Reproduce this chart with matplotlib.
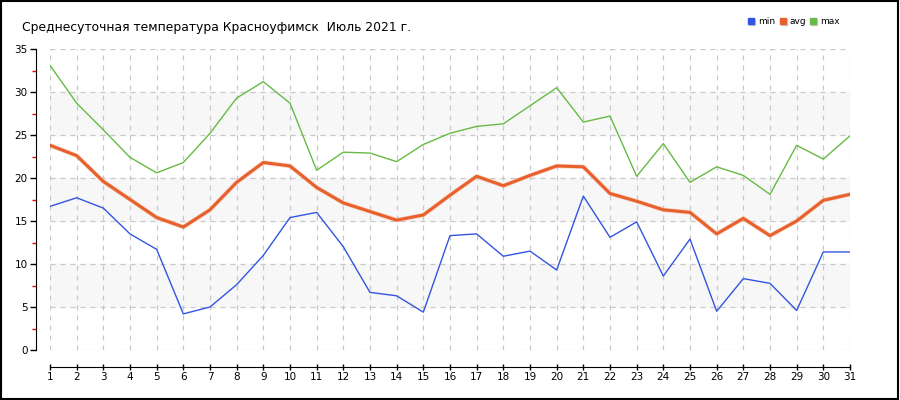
import matplotlib
matplotlib.use("Agg")
import matplotlib.pyplot as plt
from matplotlib.patches import Rectangle

days = list(range(1, 32))
t_min = [16.7, 17.7, 16.5, 13.5, 11.7, 4.2, 5.0, 7.6, 11.0, 15.4, 16.0, 12.0, 6.7, 6.3, 4.4, 13.3,
         13.5, 10.9, 11.5, 9.3, 17.9, 13.1, 14.9, 8.6, 12.9, 4.5, 8.3, 7.75, 4.6, 11.4, 11.4]
t_avg = [23.8, 22.6, 19.6, 17.5, 15.4, 14.3, 16.3, 19.5, 21.8, 21.4, 18.9, 17.1, 16.1, 15.1, 15.7, 18.0,
         20.2, 19.1, 20.3, 21.4, 21.3, 18.2, 17.3, 16.3, 16.0, 13.5, 15.3, 13.3, 15.0, 17.4, 18.1]
t_max = [33.1, 28.7, 25.6, 22.4, 20.6, 21.8, 25.2, 29.3, 31.2, 28.7, 20.9, 23.0, 22.9, 21.9, 23.9, 25.2,
         26.0, 26.3, 28.4, 30.5, 26.5, 27.2, 20.2, 24.0, 19.5, 21.3, 20.3, 18.1, 23.8, 22.2, 24.9]

title = "Среднесуточная температура Красноуфимск  Июль 2021 г."
names = ["min", "avg", "max"]
colors = ["#3355e0", "#e8602c", "#66bb44"]

fig = plt.figure(figsize=(9, 4), dpi=100)
ax = fig.add_axes([50 / 900, 50 / 400, 800 / 900, 301 / 400])

# светлые полосы фона
for lo in (5, 15, 25):
    ax.axhspan(lo, lo + 5, color="#f7f7f7", zorder=0)

ax.plot(days, t_min, color=colors[0], lw=1, zorder=3)
ax.plot(days, t_avg, color="#f4c0a8", lw=3.2, alpha=0.7, zorder=3)
ax.plot(days, t_avg, color=colors[1], lw=2.2, zorder=4)
ax.plot(days, t_max, color=colors[2], lw=1, zorder=3)

ax.set_xlim(1, 31)
ax.set_ylim(0, 35)
ax.set_xticks(days)
ax.set_yticks(range(0, 36, 5))
ax.set_yticks([2.5 + 5 * i for i in range(7)], minor=True)
ax.grid(True, which="major", color="#c8c8c8", ls=(0, (4, 4)), lw=0.9)
ax.set_axisbelow(True)

for s in ("top", "right"):
    ax.spines[s].set_visible(False)
ax.spines["left"].set_position(("outward", 10))
ax.spines["bottom"].set_position(("outward", 12))
ax.tick_params(axis="y", which="major", length=4, width=1, labelsize=7.5, pad=2)
ax.tick_params(axis="y", which="minor", length=3, width=1, color="red")
ax.tick_params(axis="x", direction="inout", length=5, width=1, labelsize=7.5, pad=1)

fig.text(22 / 900, 1 - 27 / 400, title, fontsize=8.9, va="center", ha="left")

# легенда
lx = [748, 780, 810]
for x, c, n in zip(lx, colors, names):
    fig.patches.append(Rectangle(((x + 1) / 900, 1 - 25 / 400), 6 / 900, 6 / 400,
                                 transform=fig.transFigure, color="#cccccc"))
    fig.patches.append(Rectangle((x / 900, 1 - 24 / 400), 6 / 900, 6 / 400,
                                 transform=fig.transFigure, color=c))
    fig.text((x + 10) / 900, 1 - 21 / 400, n, fontsize=6.5, va="center", ha="left")

fig.patches.append(Rectangle((0.001, 0.002), 0.997, 0.996, transform=fig.transFigure,
                             fill=False, ec="black", lw=1.5))

fig.savefig("out.png", dpi=100)
